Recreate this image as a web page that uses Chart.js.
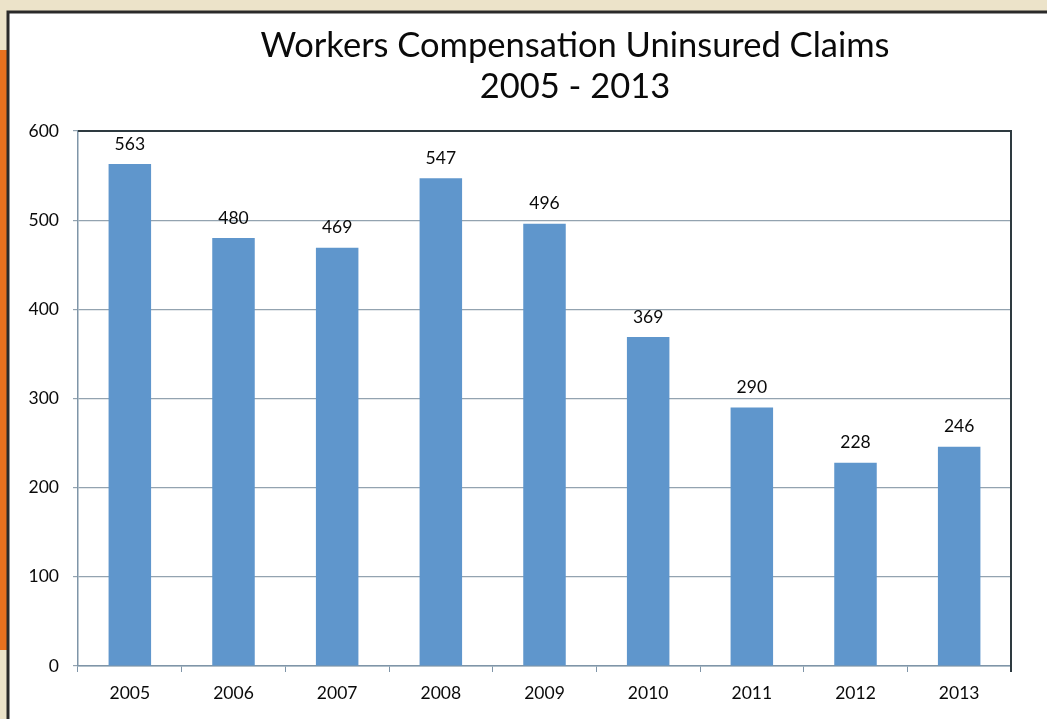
<!DOCTYPE html>
<html>
<head>
<meta charset="utf-8">
<script src="https://cdn.jsdelivr.net/npm/chart.js@4"></script>
<style>
  html, body { margin: 0; padding: 0; background: #ece3c9; overflow: hidden; }
  canvas { display: block; }
</style>
</head>
<body>
<canvas id="claimsChart" width="1047" height="719"></canvas>
<script>
const years = ['2005', '2006', '2007', '2008', '2009', '2010', '2011', '2012', '2013'];
const claims = [563, 480, 469, 547, 496, 369, 290, 228, 246];
const titleLines = ['Workers Compensation Uninsured Claims', '2005 - 2013'];
const yTicks = [0, 100, 200, 300, 400, 500, 600];

const FONT = 'Lato, "Open Sans", sans-serif';

// page backdrop: beige, orange strip, white panel with dark frame
const backdrop = {
  id: 'backdrop',
  beforeDraw(chart) {
    let ctx = chart.ctx;
    ctx.save();
    ctx.fillStyle = '#ece3c9';
    ctx.fillRect(0, 0, chart.width, chart.height);
    ctx.fillStyle = '#e8711f';
    ctx.fillRect(0, 50, 8, 600);
    ctx.fillStyle = '#ffffff';
    ctx.fillRect(8, 12, chart.width - 8, chart.height - 12);
    ctx.strokeStyle = '#2a2a2a';
    ctx.lineWidth = 3;
    ctx.beginPath();
    ctx.moveTo(8, chart.height);
    ctx.lineTo(8, 12);
    ctx.lineTo(chart.width, 12);
    ctx.stroke();
    ctx.restore();
  }
};

// title, frame around the plot and value labels
const overlay = {
  id: 'overlay',
  afterDraw(chart) {
    let ctx = chart.ctx;
    let area = chart.chartArea;
    ctx.save();
    ctx.fillStyle = '#0a0a0a';
    ctx.textAlign = 'center';
    ctx.textBaseline = 'middle';
    ctx.font = '34.5px ' + FONT;
    ctx.fillText(titleLines[0], 575, 46);
    ctx.fillText(titleLines[1], 575, 87);

    ctx.strokeStyle = '#2e3a40';
    ctx.lineWidth = 2;
    ctx.beginPath();
    ctx.moveTo(area.left, area.top);
    ctx.lineTo(area.right, area.top);
    ctx.lineTo(area.right, area.bottom + 6);
    ctx.stroke();

    ctx.font = '17.5px ' + FONT;
    let meta = chart.getDatasetMeta(0);
    meta.data.forEach((bar, i) => {
      ctx.fillText(String(claims[i]), bar.x, bar.y - 20);
    });
    ctx.restore();
  }
};

new Chart(document.getElementById('claimsChart'), {
  type: 'bar',
  data: {
    labels: years,
    datasets: [{
      data: claims,
      backgroundColor: '#5f96cc',
      borderWidth: 0,
      categoryPercentage: 1,
      barPercentage: 0.41
    }]
  },
  options: {
    responsive: false,
    animation: false,
    layout: { padding: { left: 0, right: 36, top: 131, bottom: 0 } },
    plugins: {
      legend: { display: false },
      tooltip: { enabled: false }
    },
    scales: {
      x: {
        afterFit(scale) { scale.height = 53; },
        grid: {
          offset: true,
          drawOnChartArea: false,
          drawTicks: true,
          tickLength: 6,
          color: '#7f95a8'
        },
        border: { color: '#7f95a8', width: 1.5 },
        ticks: { color: '#0a0a0a', font: { family: FONT, size: 17.5 }, padding: 11 }
      },
      y: {
        min: 0,
        max: 600,
        afterFit(scale) { scale.width = 78; },
        afterBuildTicks(scale) { scale.ticks = yTicks.map(v => ({ value: v })); },
        grid: { color: '#93a3b0', lineWidth: 1.2, tickLength: 5 },
        border: { color: '#7f95a8', width: 1.5 },
        ticks: { color: '#0a0a0a', font: { family: FONT, size: 17.5 }, padding: 14 }
      }
    }
  },
  plugins: [backdrop, overlay]
});
</script>
</body>
</html>
